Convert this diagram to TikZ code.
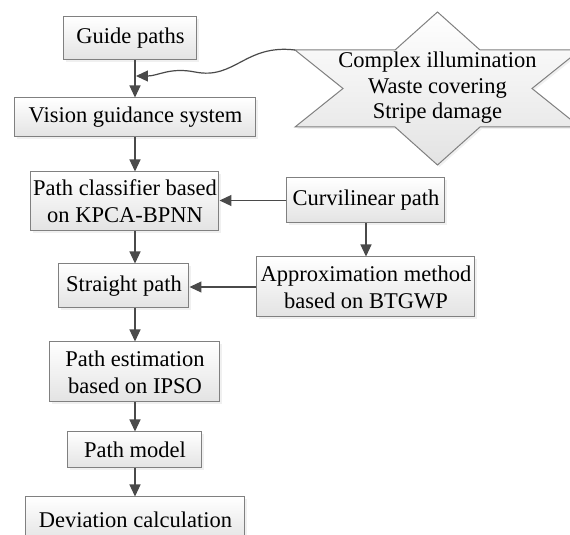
\documentclass[tikz,border=0pt]{standalone}
\usepackage{fontspec}
\setmainfont{Liberation Serif}
\usetikzlibrary{arrows.meta,shadows}

\definecolor{boxline}{HTML}{808080}
\definecolor{arrowline}{HTML}{4A4A4A}

\tikzset{
    flowbox/.style={draw=boxline, line width=0.5pt, top color=white,
        bottom color=black!11, align=center, inner sep=0pt,
        drop shadow={shadow xshift=1pt, shadow yshift=-1pt, opacity=0.12}},
    flowarrow/.style={draw=arrowline, line width=0.6pt,
        -{Triangle[length=6pt,width=5.5pt]}},
}

\begin{document}
\begin{tikzpicture}[x=0.5pt,y=-0.5pt,
        font=\rmfamily\fontsize{11.25}{13.5}\selectfont]

    \useasboundingbox (0,0) rectangle (570,535);

    % main column
    \node[flowbox, minimum width=66.5pt, minimum height=21.5pt]
        (guide) at (130.5,38.5) {Guide paths};
    \node[flowbox, minimum width=120.5pt, minimum height=19.5pt]
        (vision) at (135.5,117.5) {Vision guidance system};
    \node[flowbox, minimum width=94pt, minimum height=29.5pt]
        (cls) at (125,201.5) {Path classifier based\\on KPCA-BPNN};
    \node[flowbox, minimum width=65pt, minimum height=22pt]
        (straight) at (124,286) {Straight path};
    \node[flowbox, minimum width=85pt, minimum height=30pt]
        (est) at (135,372) {Path estimation\\based on IPSO};
    \node[flowbox, minimum width=67pt, minimum height=18pt]
        (model) at (135,450) {Path model};
    \node[flowbox, minimum width=109.5pt, minimum height=22.5pt]
        (dev) at (135.5,519.5) {Deviation calculation};

    % right branch
    \node[flowbox, minimum width=79pt, minimum height=22.5pt]
        (curv) at (366,200.5) {Curvilinear path};
    \node[flowbox, minimum width=109pt, minimum height=30pt]
        (approx) at (366,287) {Approximation method\\based on BTGWP};

    % disturbances
    \path[draw=boxline, line width=0.5pt, top color=white, bottom color=black!11,
        drop shadow={shadow xshift=1pt, shadow yshift=-1pt, opacity=0.12}]
        (437.5,12) -- (480,50) -- (580,50) -- (532,88.5) -- (580,127)
        -- (480,127) -- (437.5,165) -- (395,127) -- (295,127)
        -- (343,88.5) -- (295,50) -- (395,50) -- cycle;
    \coordinate (starw) at (295,50);
    \node[align=center, font=\rmfamily\fontsize{11.25}{12.7}\selectfont]
        (noise) at (437.5,88) {Complex illumination\\Waste covering\\Stripe damage};

    \coordinate (axis) at (135,0);
    \coordinate (hit) at (136,76);

    % connectors
    \draw[flowarrow] (guide.south -| axis) -- (vision.north -| axis);
    \draw[flowarrow] (vision.south -| axis) -- (cls.north -| axis);
    \draw[flowarrow] (cls.south -| axis) -- (straight.north -| axis);
    \draw[flowarrow] (straight.south -| axis) -- (est.north -| axis);
    \draw[flowarrow] (est.south -| axis) -- (model.north -| axis);
    \draw[flowarrow] (model.south -| axis) -- (dev.north -| axis);
    \draw[flowarrow] (curv.west) -- (curv.west -| cls.east);
    \draw[flowarrow] (curv.south) -- (approx.north -| curv.south);
    \draw[flowarrow] (approx.west) -- (approx.west -| straight.east);
    \draw[flowarrow] (starw) .. controls (245,44) and (235,80) .. (195,72)
        .. controls (170,67) and (158,76) .. (hit);

\end{tikzpicture}
\end{document}
